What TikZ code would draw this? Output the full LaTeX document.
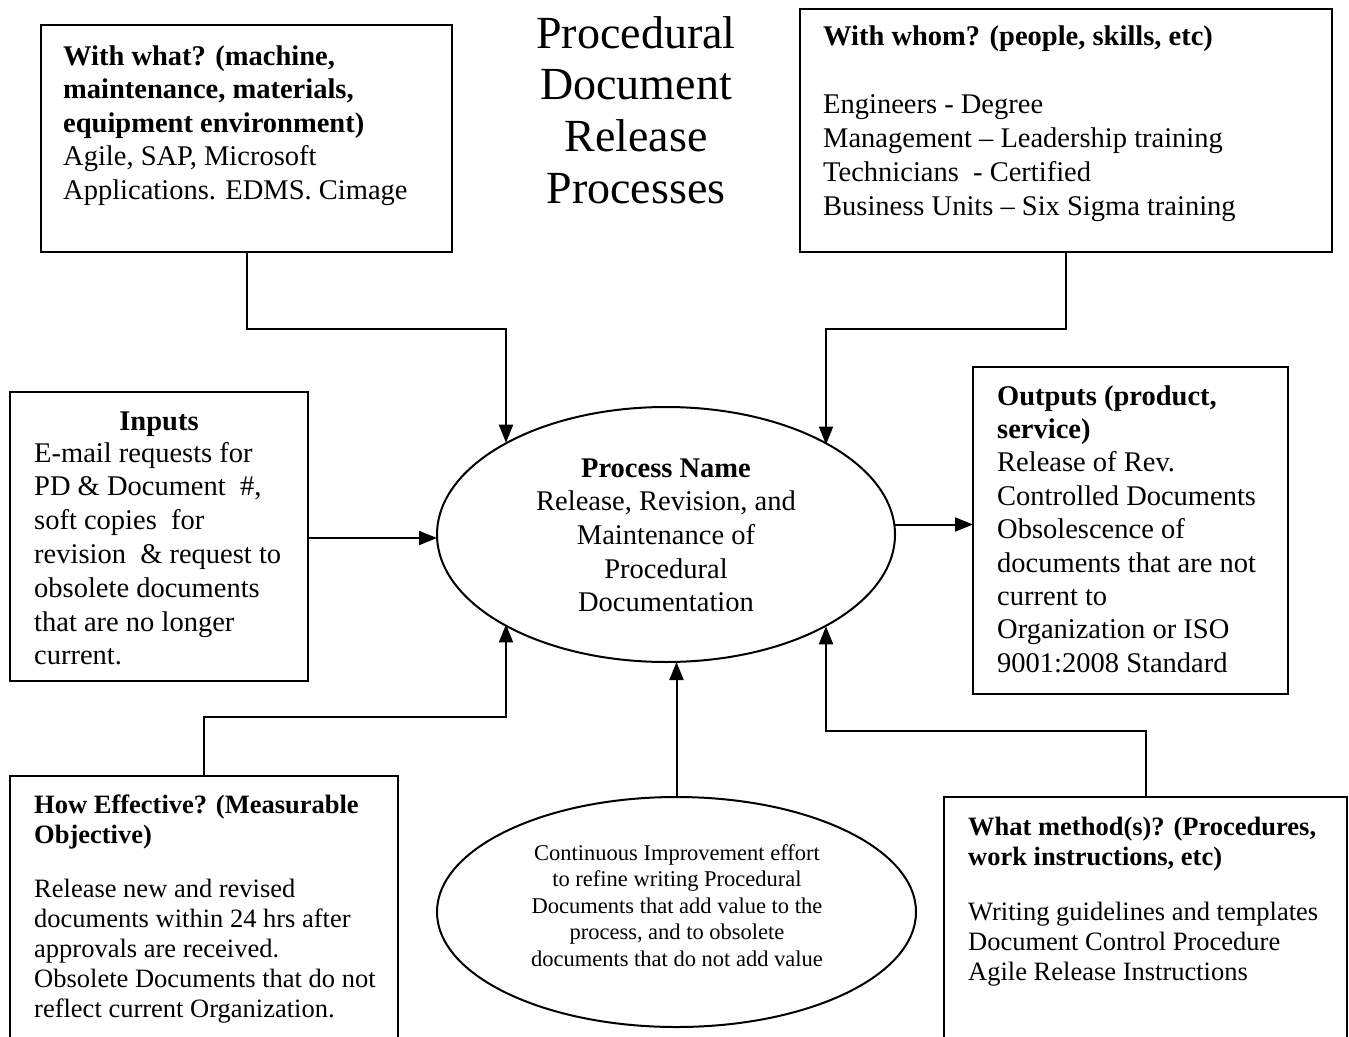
\documentclass[tikz,border=0pt]{standalone}
\usepackage{fontspec}
\setmainfont{Liberation Serif}
\usetikzlibrary{arrows.meta,shapes.geometric}
\begin{document}
\begin{tikzpicture}[x=1pt,y=-1pt,
  box/.style={draw, line width=2pt, anchor=north west, inner sep=0pt, outer sep=0pt},
  oval/.style={draw, ellipse, line width=2pt, inner sep=0pt, outer sep=0pt},
  txt/.style={anchor=base west, align=left, inner sep=0pt, font=\fontsize{28.5}{33.5}\selectfont},
  ctxt/.style={anchor=base, align=center, inner sep=0pt, font=\fontsize{28.5}{33.7}\selectfont},
  lowtxt/.style={anchor=base west, align=left, inner sep=0pt, font=\fontsize{26.5}{30}\selectfont},
  arr/.style={line width=2pt, -{Triangle[length=18pt,width=14pt]}},
  ln/.style={line width=2pt}]
\useasboundingbox (0,0) rectangle (1349,1036);
\clip (0,0) rectangle (1349,1036);

% title (base anchor = baseline of last line)
\node[anchor=base, align=center, inner sep=0pt, font=\fontsize{46}{51.8}\selectfont] (title) at (636,203.4)
  {Procedural\\Document\\Release\\Processes};

% boxes
\node[box, minimum width=411pt, minimum height=227pt] (what) at (41,25) {};
\node[txt] (whatT) at (63,199) {\textbf{With what? (machine,}\\\textbf{maintenance, materials,}\\\textbf{equipment environment)}\\Agile, SAP, Microsoft\\Applications. EDMS. Cimage};

\node[box, minimum width=532pt, minimum height=243pt] (whom) at (800,9) {};
\node[txt, font=\fontsize{28.5}{34}\selectfont] (whomT) at (823,215) {\textbf{With whom? (people, skills, etc)}\\[34pt]Engineers - Degree\\Management – Leadership training\\Technicians \ - Certified\\Business Units – Six Sigma training};

\node[box, minimum width=298pt, minimum height=289pt] (inp) at (10,392) {};
\node[ctxt] (inpH) at (159,430) {\textbf{Inputs}};
\node[txt, font=\fontsize{28.5}{33.8}\selectfont] (inpT) at (34,664.8) {E-mail requests for\\PD \& Document \ \#,\\soft copies \ for\\revision \ \& request to\\obsolete documents\\that are no longer\\current.};

\node[box, minimum width=315pt, minimum height=327pt] (out) at (973,367) {};
\node[txt, font=\fontsize{28.5}{33.4}\selectfont] (outT) at (997,672.2) {\textbf{Outputs (product,}\\\textbf{service)}\\Release of Rev.\\Controlled Documents\\Obsolescence of\\documents that are not\\current to\\Organization or ISO\\9001:2008 Standard};

\node[box, minimum width=388pt, minimum height=300pt] (eff) at (10,776) {};
\node[lowtxt] (effT) at (34,1017) {\textbf{How Effective? (Measurable}\\\textbf{Objective)}\\[24pt]Release new and revised\\documents within 24 hrs after\\approvals are received.\\Obsolete Documents that do not\\reflect current Organization.};

\node[box, minimum width=403pt, minimum height=300pt] (meth) at (944,797) {};
\node[lowtxt] (methT) at (968,980) {\textbf{What method(s)? (Procedures,}\\\textbf{work instructions, etc)}\\[25pt]Writing guidelines and templates\\Document Control Procedure\\Agile Release Instructions};

% ellipses
\node[oval, minimum width=458pt, minimum height=255pt] (main) at (666,534.5) {};
\node[ctxt] (mainT) at (666,611.8) {\textbf{Process Name}\\Release, Revision, and\\Maintenance of\\Procedural\\Documentation};

\node[oval, minimum width=479pt, minimum height=230pt] (ci) at (676.5,912) {};
\node[anchor=base, align=center, inner sep=0pt, font=\fontsize{22.5}{26.5}\selectfont] (ciT) at (677,966)
  {Continuous Improvement effort\\to refine writing Procedural\\Documents that add value to the\\process, and to obsolete\\documents that do not add value};

% connectors
\coordinate (k1) at (506,329);
\coordinate (k2) at (826,329);
\coordinate (k3) at (506,717);
\coordinate (k4) at (826,731);
\draw[arr] (what.south) |- (k1) -- (k1 |- main.150.4);
\draw[arr] (whom.south) |- (k2) -- (k2 |- main.29.6);
\draw[arr] (eff.north) |- (k3) -- (k3 |- main.209.6);
\draw[arr] (meth.north) |- (k4) -- (k4 |- main.330.4);
\draw[arr] (ci.north) -- (ci.north |- main.south);
\draw[arr] (inp.east |- 0,538) -- (main.west |- 0,538);
\draw[arr] ([yshift=10pt]main.east) -- ([yshift=10pt]main.east -| out.west);
\end{tikzpicture}
\end{document}
